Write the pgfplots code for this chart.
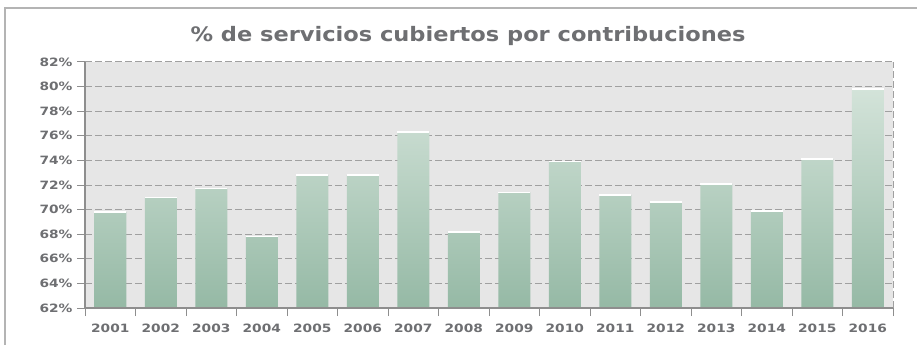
\documentclass[border=0pt]{standalone}
\usepackage{fontspec}
\setmainfont{DejaVu Sans}
\usepackage{pgfplots}
\pgfplotsset{compat=1.18}
\definecolor{txt}{HTML}{6E6F72}
\definecolor{plotbg}{HTML}{E6E6E6}
\definecolor{gridc}{HTML}{A0A0A0}
\definecolor{bartop}{HTML}{D3E3D9}
\definecolor{barbot}{HTML}{95B9A5}
\definecolor{axc}{HTML}{8E8E8E}
\definecolor{framec}{HTML}{B4B4B4}
\newcommand{\sx}[1]{\scalebox{1.2}[1]{#1}}
\begin{document}
\begin{tikzpicture}[x=1bp,y=1bp]
\useasboundingbox (0,0) rectangle (917,345);
\fill[white] (0,0) rectangle (917,345);
\draw[line width=1.5bp, framec] (5,0) -- (5,337) -- (917,337);
\node[txt, font=\bfseries\fontsize{20}{24}\selectfont] at (468,309) {\scalebox{1.13}[1]{\% de servicios cubiertos por contribuciones}};
\begin{axis}[
  at={(85bp,37bp)}, anchor=south west,
  scale only axis, width=808bp, height=246bp,
  xmin=0.5, xmax=16.5, ymin=62, ymax=82,
  y coord trafo/.code={\pgfmathparse{#1-62}},
  y coord inv trafo/.code={\pgfmathparse{#1+62}},
  ytick={62,64,...,82},
  yticklabels={\sx{62\%},\sx{64\%},\sx{66\%},\sx{68\%},\sx{70\%},\sx{72\%},\sx{74\%},\sx{76\%},\sx{78\%},\sx{80\%},\sx{82\%}},
  xtick={0.5,1.5,...,16.5},
  x tick label as interval,
  xticklabels={\sx{2001},\sx{2002},\sx{2003},\sx{2004},\sx{2005},\sx{2006},\sx{2007},\sx{2008},\sx{2009},\sx{2010},\sx{2011},\sx{2012},\sx{2013},\sx{2014},\sx{2015},\sx{2016}},
  xtick pos=bottom, ytick pos=left,
  ticklabel style={txt, font=\bfseries\fontsize{11.5}{13}\selectfont},
  yticklabel style={xshift=-1bp},
  xticklabel style={yshift=-4bp},
  tick align=outside,
  major tick length=8bp,
  tick style={axc, line width=1bp},
  axis background/.style={fill=plotbg},
  axis line style={draw=none},
  ymajorgrids,
  grid style={gridc, line width=1bp, dash pattern=on 7bp off 3bp},
  clip=false,
]
\addplot[ybar, bar width=32bp, draw=none, shading=axis, top color=bartop, bottom color=barbot]
  coordinates {(1,69.8) (2,71.0) (3,71.7) (4,67.8) (5,72.8) (6,72.8) (7,76.3) (8,68.2)
               (9,71.4) (10,73.9) (11,71.2) (12,70.6) (13,72.1) (14,69.9) (15,74.1) (16,79.8)};
\addplot[only marks, mark=-, mark size=16bp, mark options={white, line width=1.6bp}]
  coordinates {(1,69.8) (2,71.0) (3,71.7) (4,67.8) (5,72.8) (6,72.8) (7,76.3) (8,68.2)
               (9,71.4) (10,73.9) (11,71.2) (12,70.6) (13,72.1) (14,69.9) (15,74.1) (16,79.8)};
\draw[gridc, line width=1bp, dash pattern=on 7bp off 3bp] (rel axis cs:1,0) -- (rel axis cs:1,1);
\draw[axc, line width=1.3bp] (rel axis cs:0,1) -- (rel axis cs:0,0) -- (rel axis cs:1,0);
\end{axis}
\end{tikzpicture}
\end{document}
